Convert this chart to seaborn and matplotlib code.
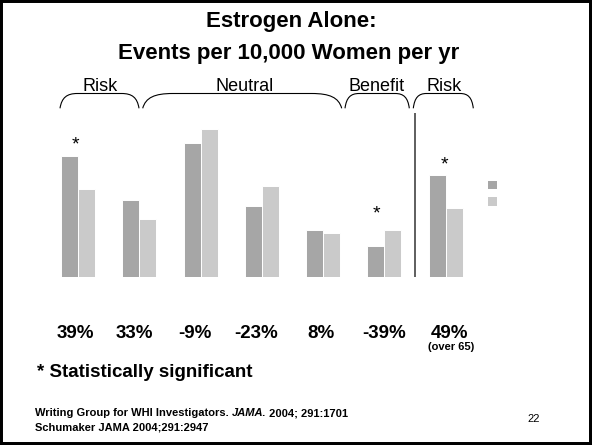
import pandas as pd
import matplotlib
matplotlib.use("Agg")
import matplotlib.pyplot as plt
import matplotlib.patches as mpatches
from matplotlib.path import Path
import seaborn as sns

# ----------------------------
# DATA
# ----------------------------
outcomes = ["Stroke", "DVT", "CHD", "Breast cancer", "Colorectal cancer",
            "Hip fracture", "Dementia"]
estrogen = [44, 28, 49, 26, 17, 11, 37]
placebo = [32, 21, 54, 33, 16, 17, 25]
pct_labels = ["39%", "33%", "-9%", "-23%", "8%", "-39%", "49%"]
significant = [True, False, False, False, False, True, True]
brace_labels = ["Risk", "Neutral", "Benefit", "Risk"]

df = pd.DataFrame({
    "outcome": outcomes * 2,
    "rate": estrogen + placebo,
    "group": ["Estrogen"] * len(outcomes) + ["Placebo"] * len(outcomes),
})

# ----------------------------
# FIGURE
# ----------------------------
sns.set_style("white")
plt.rcParams["font.family"] = ["Liberation Sans", "DejaVu Sans"]
plt.rcParams["text.color"] = "black"

W, H = 592, 445
fig = plt.figure(figsize=(W / 100, H / 100), dpi=100)
fig.patch.set_facecolor("white")


def px(x, y):
    # pixel coords measured from the top-left corner -> figure fraction
    return x / W, 1 - y / H


# slide border
fig.patches.append(mpatches.Rectangle((0, 0), 1, 1, transform=fig.transFigure,
                                      fill=False, edgecolor="black", lw=4.3))

# bar axes
ax = fig.add_axes([47.4 / W, 168.5 / H, 428.75 / W, 163.8 / H])
sns.barplot(data=df, x="outcome", y="rate", hue="group",
            palette=["#a6a6a6", "#cacaca"], width=0.555,
            edgecolor="white", linewidth=0.7, ax=ax)
ax.set_xlim(-0.5, 6.5)
ax.set_ylim(0, 60)
ax.set_axis_off()
ax.axvline(5.5, ymin=0, ymax=1.01, color="#333333", lw=1.1)

handles, _ = ax.get_legend_handles_labels()
for h in handles:
    h.set_edgecolor("none")
ax.legend(handles, [" ", " "], frameon=False, loc="upper left",
          bbox_to_anchor=px(487.7, 181.0), bbox_transform=fig.transFigure,
          fontsize=5.4, handlelength=1.3, handleheight=1.3, borderpad=0,
          borderaxespad=0, handletextpad=0, labelspacing=1.05)

# ----------------------------
# TEXT
# ----------------------------
fig.text(*px(291, 26.7), "Estrogen Alone:", ha="center", va="baseline",
         fontsize=16, fontweight="bold")
fig.text(*px(289, 59.3), "Events per 10,000 Women per yr", ha="center",
         va="baseline", fontsize=16, fontweight="bold")

# braces over the groups
brace_x = [(60, 139), (142.7, 341.7), (345, 409.3), (413.3, 473.3)]
brace_lx = [100, 244.7, 376.7, 444]
yb, yt = 108.3, 93.5
for (x0, x1), lx, lab in zip(brace_x, brace_lx, brace_labels):
    r = min(0.22 * (x1 - x0), 30)
    verts = [px(x0, yb), px(x0 + 0.1 * r, yt + 4), px(x0 + 0.4 * r, yt),
             px(x0 + r, yt),
             px(x1 - r, yt),
             px(x1 - 0.4 * r, yt), px(x1 - 0.1 * r, yt + 4), px(x1, yb)]
    codes = [Path.MOVETO, Path.CURVE4, Path.CURVE4, Path.CURVE4,
             Path.LINETO, Path.CURVE4, Path.CURVE4, Path.CURVE4]
    fig.patches.append(mpatches.PathPatch(Path(verts, codes), fill=False,
                                          edgecolor="black", lw=0.8,
                                          transform=fig.transFigure))
    fig.text(*px(lx, 90.7), lab, ha="center", va="baseline", fontsize=13)

# significance asterisks
star_xy = [(75.3, 138), None, None, None, None, (376, 207.3), (444.3, 158.3)]
for sig, xy in zip(significant, star_xy):
    if sig:
        fig.text(*px(xy[0], xy[1] + 11), "*", ha="center", va="baseline",
                 fontsize=14)

# percent change row
pct_x = [75.8, 134.7, 194.7, 255.8, 321.2, 384.5, 449.5]
for x, lab in zip(pct_x, pct_labels):
    fig.text(*px(x, 338.3), lab, ha="center", va="baseline", fontsize=13.5,
             fontweight="bold")
fig.text(*px(451.3, 349.5), "(over 65)", ha="center", va="baseline",
         fontsize=8, fontweight="bold")

fig.text(*px(36.7, 376.7), "* Statistically significant", ha="left",
         va="baseline", fontsize=13.5, fontweight="bold")

# references
renderer = fig.canvas.get_renderer()
x = 35
for part, style in [("Writing Group for WHI Investigators. ", "normal"),
                    ("JAMA.", "italic"), (" 2004; 291:1701", "normal")]:
    t = fig.text(*px(x, 416), part, ha="left", va="baseline", fontsize=8,
                 fontweight="bold", fontstyle=style)
    x += t.get_window_extent(renderer).width
fig.text(*px(35, 430), "Schumaker JAMA 2004;291:2947", ha="left",
         va="baseline", fontsize=8, fontweight="bold")
fig.text(*px(533.7, 421.7), "22", ha="center", va="baseline", fontsize=8)

plt.savefig("out.png", dpi=100)
